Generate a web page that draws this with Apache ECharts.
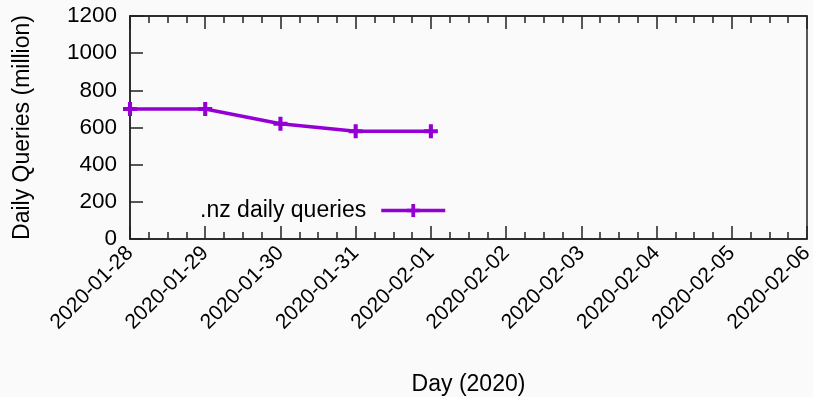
<!DOCTYPE html>
<html><head><meta charset="utf-8">
<script src="https://cdn.jsdelivr.net/npm/echarts@6/dist/echarts.min.js"></script>
<style>html,body{margin:0;padding:0;background:#fafafa}#c{width:813px;height:397px}</style>
</head><body><div id="c"></div>
<script>
const categories = ['2020-01-28','2020-01-29','2020-01-30','2020-01-31','2020-02-01','2020-02-02','2020-02-03','2020-02-04','2020-02-05','2020-02-06'];
const queries = [700, 700, 620, 580, 580];
const seriesName = '.nz daily queries';
const yTicks = [0, 200, 400, 600, 800, 1000, 1200];

const FONT = 'Liberation Sans';
const TXT = '#000';
const plus = 'path://M4.25,0H7.75V4.25H12V7.75H7.75V12H4.25V7.75H0V4.25H4.25Z';
const axisLineStyle = {color:'#222', width:1.5};

const chart = echarts.init(document.getElementById('c'));
chart.setOption({
  backgroundColor:'#fafafa',
  animation:false,
  textStyle:{fontFamily:FONT},
  grid:{left:130, right:6, top:16, bottom:158, show:true, borderColor:'#222', borderWidth:1.5,
        backgroundColor:'transparent', containLabel:false, outerBoundsMode:'none'},
  legend:{
    right:366, top:199, padding:0, align:'right', itemWidth:64, itemHeight:16,
    lineStyle:{width:3.5},
    textStyle:{fontSize:23, color:TXT, fontFamily:FONT, padding:[0,10,0,0]},
    data:[seriesName]
  },
  xAxis:[{
    type:'value', min:0, max:categories.length-1, interval:1,
    name:'Day (2020)', nameLocation:'middle', nameGap:134,
    nameTextStyle:{fontSize:23, color:TXT, fontFamily:FONT},
    axisLine:{show:true, lineStyle:axisLineStyle},
    axisTick:{show:true, inside:true, length:13, lineStyle:axisLineStyle},
    minorTick:{show:true, splitNumber:4, length:7, lineStyle:axisLineStyle},
    splitLine:{show:false},
    axisLabel:{rotate:45, fontSize:21, color:TXT, fontFamily:FONT, margin:11,
      formatter:v => categories[Math.round(v)] || ''}
  },{
    type:'value', position:'top', min:0, max:categories.length-1, interval:1,
    axisLine:{show:true, lineStyle:axisLineStyle},
    axisTick:{show:true, inside:true, length:13, lineStyle:axisLineStyle},
    minorTick:{show:true, splitNumber:4, length:7, lineStyle:axisLineStyle},
    splitLine:{show:false}, axisLabel:{show:false}
  }],
  yAxis:{
    type:'value', min:yTicks[0], max:yTicks[yTicks.length-1], interval:200,
    name:'Daily Queries (million)', nameLocation:'middle', nameGap:96, nameRotate:90,
    nameTextStyle:{fontSize:23, color:TXT, fontFamily:FONT},
    axisLine:{show:true, lineStyle:axisLineStyle},
    axisTick:{show:true, inside:true, length:13, lineStyle:axisLineStyle},
    splitLine:{show:false},
    axisLabel:{fontSize:22.5, color:TXT, fontFamily:FONT, margin:13, formatter:v => String(v)}
  },
  series:[{
    name:seriesName, type:'line', xAxisIndex:0,
    data:queries.map((v,i)=>[i,v]),
    symbol:plus, symbolSize:14, showAllSymbol:true,
    lineStyle:{color:'#9400d3', width:3.5},
    itemStyle:{color:'#9400d3'}
  }]
});
</script></body></html>
